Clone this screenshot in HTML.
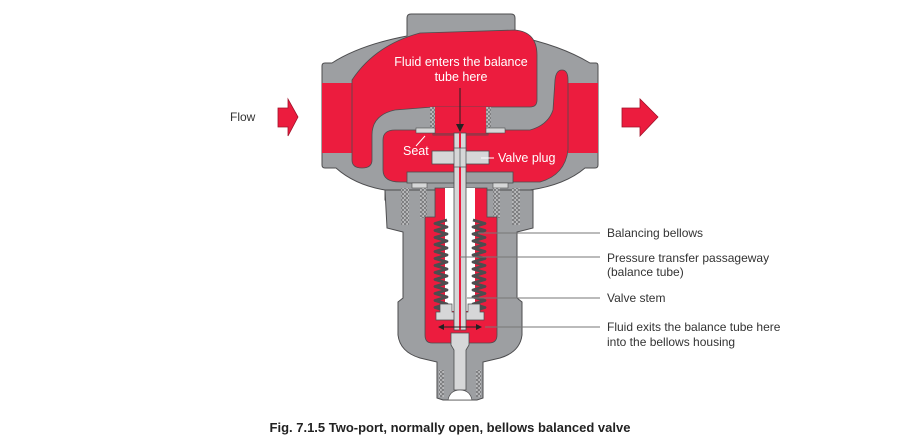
<!DOCTYPE html>
<html><head><meta charset="utf-8"><style>
html,body{margin:0;padding:0;background:#fff;width:900px;height:445px;overflow:hidden}
svg{display:block}
text{font-family:"Liberation Sans",Arial,sans-serif}
</style></head><body>
<svg width="900" height="445" viewBox="0 0 900 445" xmlns="http://www.w3.org/2000/svg">
<defs>
<pattern id="thr" width="4" height="4" patternUnits="userSpaceOnUse"><rect width="4" height="4" fill="#b9babc"/><path d="M0 0L4 2L0 4" fill="none" stroke="#5d5e60" stroke-width="0.7"/></pattern>
</defs>
<g stroke="#4d4d4f" stroke-width="1">
<path d="M407 18 Q407 14 411 14 L511 14 Q515 14 515 18 L515 36 Q560 45 590 63 L596 63 Q598 63 598 66 L598 165 Q598 168 595 168 L585 168 Q565 185 530 190 L530 200 L385 200 L385 190 Q355 185 336 168 L325 168 Q322 168 322 165 L322 66 Q322 63 325 63 L332 63 Q360 45 407 36 Z" fill="#9d9fa2"/>
<path d="M385 190 L533 190 L533 228 L517 232 L517 298 L522 302 L522 335 Q520 352 500 358 L483 362 L483 398 L477 400 L443 400 L437 398 L437 362 L420 358 Q400 352 398 335 L398 302 L403 298 L403 232 L387 228 Z" fill="#9d9fa2"/>
</g>
<rect x="322" y="83" width="31" height="70" fill="#ec1c3e"/>
<rect x="568" y="83" width="30" height="70" fill="#ec1c3e"/>
<path d="M352 80 Q375 45 420 33 L515 30 Q537 32 537 55 L537 100 Q537 107 530 107 L433 107 L395 110 Q372 115 372 135 L372 160 Q372 168 362 168 Q352 168 352 160 Z" fill="#ec1c3e" stroke="#4d4d4f" stroke-width="0.8"/>
<path d="M383 140 Q383 130 395 130 L433 130 L433 135 L488 135 L488 130 L530 130 Q548 125 553 110 L555 80 Q556 70 562 70 Q568 70 568 80 L568 150 Q565 175 540 182 L400 182 Q383 182 383 170 Z" fill="#ec1c3e" stroke="#4d4d4f" stroke-width="0.8"/>
<rect x="433" y="107" width="55" height="28" fill="#ec1c3e"/>
<rect x="430" y="107" width="5" height="24" fill="url(#thr)"/>
<rect x="486" y="107" width="5" height="24" fill="url(#thr)"/>
<rect x="416" y="128" width="19" height="5" fill="#d6d7d8" stroke="#4d4d4f" stroke-width="0.6"/>
<rect x="486" y="128" width="19" height="5" fill="#d6d7d8" stroke="#4d4d4f" stroke-width="0.6"/>
<line x1="433" y1="134" x2="488" y2="134" stroke="#4d4d4f" stroke-width="1"/>
<rect x="407" y="172" width="106" height="11" fill="#9d9fa2" stroke="#4d4d4f" stroke-width="0.8"/>
<rect x="412" y="183" width="15" height="5" fill="#d6d7d8" stroke="#4d4d4f" stroke-width="0.6"/>
<rect x="493" y="183" width="15" height="5" fill="#d6d7d8" stroke="#4d4d4f" stroke-width="0.6"/>
<rect x="401" y="188" width="8" height="37" fill="url(#thr)"/>
<rect x="512" y="188" width="8" height="37" fill="url(#thr)"/>
<rect x="420" y="188" width="7" height="30" fill="url(#thr)"/>
<rect x="493" y="188" width="7" height="30" fill="url(#thr)"/>
<path d="M435 188 L487 188 L487 217 L497 217 L497 335 Q497 343 489 343 L432 343 Q425 343 425 335 L425 217 L435 217 Z" fill="#ec1c3e" stroke="#4d4d4f" stroke-width="0.8"/>
<rect x="445" y="188" width="30" height="123" fill="#fff"/>
<path d="M447 220 l-12 3.5 l12 3.5 l-12 3.5 l12 3.5 l-12 3.5 l12 3.5 l-12 3.5 l12 3.5 l-12 3.5 l12 3.5 l-12 3.5 l12 3.5 l-12 3.5 l12 3.5 l-12 3.5 l12 3.5 l-12 3.5 l12 3.5 l-12 3.5 l12 3.5 l-12 3.5 l12 3.5 l-12 3.5 l12 3.5 l-12 3.5 l12 3.5" fill="none" stroke="#4d4d4f" stroke-width="2.8" stroke-linejoin="round"/>
<path d="M473 220 l12 3.5 l-12 3.5 l12 3.5 l-12 3.5 l12 3.5 l-12 3.5 l12 3.5 l-12 3.5 l12 3.5 l-12 3.5 l12 3.5 l-12 3.5 l12 3.5 l-12 3.5 l12 3.5 l-12 3.5 l12 3.5 l-12 3.5 l12 3.5 l-12 3.5 l12 3.5 l-12 3.5 l12 3.5 l-12 3.5 l12 3.5 l-12 3.5" fill="none" stroke="#4d4d4f" stroke-width="2.8" stroke-linejoin="round"/>
<path d="M440 304 L452 304 L452 312 L458 312 L458 320 L436 320 L436 312 L440 312 Z" fill="#d6d7d8" stroke="#4d4d4f" stroke-width="0.7"/>
<path d="M480 304 L468 304 L468 312 L462 312 L462 320 L484 320 L484 312 L480 312 Z" fill="#d6d7d8" stroke="#4d4d4f" stroke-width="0.7"/>
<rect x="454" y="133" width="12" height="197" fill="#d6d7d8" stroke="#4d4d4f" stroke-width="0.8"/>
<rect x="459" y="133" width="2" height="197" fill="#ec1c3e"/>
<rect x="432" y="151" width="57" height="13" fill="#d6d7d8" stroke="#4d4d4f" stroke-width="0.8"/>
<rect x="454" y="148" width="12" height="19" fill="#d6d7d8" stroke="#4d4d4f" stroke-width="0.7"/>
<line x1="460" y1="148" x2="460" y2="167" stroke="#4d4d4f" stroke-width="0.7"/>
<path d="M451 333 L469 333 L469 345 L466 350 L466 390 L454 390 L454 350 L451 345 Z" fill="#d6d7d8" stroke="#4d4d4f" stroke-width="0.8"/>
<rect x="439" y="370" width="5" height="27" fill="url(#thr)"/>
<rect x="476" y="370" width="5" height="27" fill="url(#thr)"/>
<path d="M448 400 Q450 390 460 390 Q470 390 472 400 Z" fill="#fff" stroke="#4d4d4f" stroke-width="0.7"/>
<line x1="460" y1="88" x2="460" y2="128" stroke="#222" stroke-width="1"/>
<path d="M456 124 L464 124 L460 132 Z" fill="#222"/>
<line x1="440" y1="327" x2="480" y2="327" stroke="#222" stroke-width="1"/>
<path d="M438 327 L444 324 L444 330 Z M482 327 L476 324 L476 330 Z" fill="#222"/>
<line x1="416" y1="146" x2="425" y2="136" stroke="#fff" stroke-width="1"/>
<line x1="481" y1="158" x2="494" y2="158" stroke="#fff" stroke-width="1"/>
<g fill="#fff" font-size="12.5">
<text x="461" y="66" text-anchor="middle">Fluid enters the balance</text>
<text x="461" y="81" text-anchor="middle">tube here</text>
<text x="403" y="155">Seat</text>
<text x="498" y="162">Valve plug</text>
</g>
<path d="M278 108 L288 108 L288 99 L298 117 L288 136 L288 127 L278 127 Z" fill="#ec1c3e" stroke="#a0122a" stroke-width="0.8"/>
<path d="M622 108 L640 108 L640 99 L658 117 L640 136 L640 127 L622 127 Z" fill="#ec1c3e" stroke="#a0122a" stroke-width="0.8"/>
<g stroke="#777" stroke-width="1">
<line x1="478" y1="233" x2="600" y2="233"/>
<line x1="460" y1="257" x2="600" y2="257"/>
<line x1="467" y1="298" x2="600" y2="298"/>
<line x1="485" y1="327" x2="600" y2="327"/>
</g>
<g fill="#333" font-size="12">
<text x="230" y="121">Flow</text>
<text x="607" y="237">Balancing bellows</text>
<text x="607" y="262">Pressure transfer passageway</text>
<text x="607" y="276">(balance tube)</text>
<text x="607" y="302">Valve stem</text>
<text x="607" y="331">Fluid exits the balance tube here</text>
<text x="607" y="346">into the bellows housing</text>
</g>
<text x="450" y="432" text-anchor="middle" font-size="13" font-weight="bold" fill="#222">Fig. 7.1.5 Two-port, normally open, bellows balanced valve</text>
</svg>
</body></html>
